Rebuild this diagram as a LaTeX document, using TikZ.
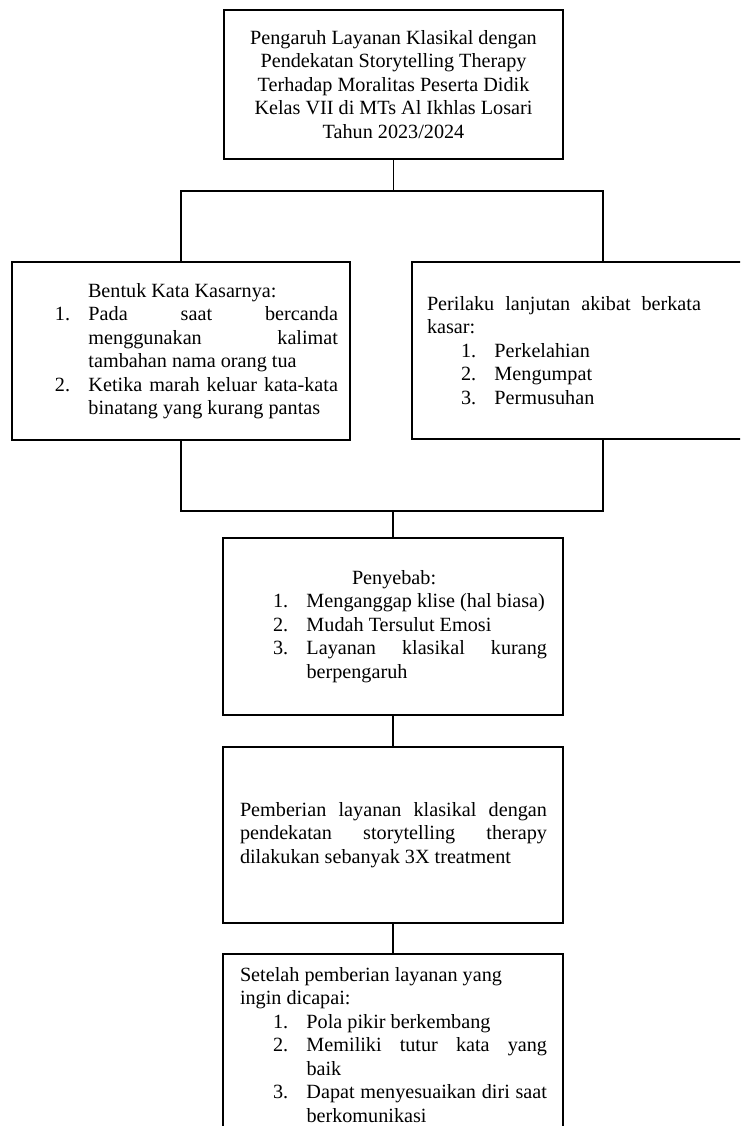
\documentclass[tikz,border=0pt]{standalone}
\usepackage{fontspec}
\setmainfont{Liberation Serif}
\newlength{\lblw}\setlength{\lblw}{33.5pt}
\newcommand{\itm}[2]{\par\noindent\hangindent=\lblw\hangafter=1\makebox[\lblw][l]{#1}#2}
\newcommand{\boxtxt}[4]{\hspace*{#1pt}\parbox{#2pt}{\tolerance=9999\hbadness=10000\hyphenpenalty=10000 #4}\hspace*{#3pt}}
\begin{document}
\begin{tikzpicture}[x=1pt,y=-1pt,
  blok/.style={draw,line width=1.8pt,inner sep=0pt,minimum height=#1,font=\fontsize{20.2}{23.5}\selectfont},
  lijn/.style={line width=1.8pt}]
 \useasboundingbox (0,0) rectangle (740,1126);
 \clip (0,0) rectangle (740,1126);
 \node[blok=149pt] (t) at (393.5,84.5) {\boxtxt{0}{339}{0}{\centering Pengaruh Layanan Klasikal dengan\\ Pendekatan Storytelling Therapy\\ Terhadap Moralitas Peserta Didik\\ Kelas VII di MTs Al Ikhlas Losari\\ Tahun 2023/2024}};
 \node[blok=178pt] (l) at (181,351) {\boxtxt{43}{283}{12}{\hspace*{33pt}Bentuk Kata Kasarnya:
   \itm{1.}{Pada saat bercanda\linebreak menggunakan kalimat\linebreak tambahan nama orang tua}
   \itm{2.}{Ketika marah keluar kata-kata\linebreak binatang yang kurang pantas}}};
 \node[blok=177pt] (r) at (603,350.5) {\boxtxt{15}{274}{93}{Perilaku lanjutan akibat berkata\linebreak kasar:\par
   \leftskip=34pt
   \itm{1.}{Perkelahian}
   \itm{2.}{Mengumpat}
   \itm{3.}{Permusuhan}}};
 \node[blok=177pt] (p) at (393,626.5) {\boxtxt{50}{274}{16}{\hspace*{79pt}Penyebab:
   \itm{1.}{Menganggap klise (hal biasa)}
   \itm{2.}{Mudah Tersulut Emosi}
   \itm{3.}{Layanan klasikal kurang\linebreak berpengaruh}}};
 \node[blok=176pt] (q) at (393,835) {\boxtxt{17}{307}{16}{Pemberian layanan klasikal dengan\linebreak pendekatan storytelling therapy\linebreak dilakukan sebanyak 3X treatment}};
 \node[blok=182pt] (f) at (393,1045) {\boxtxt{17}{307}{16}{Setelah pemberian layanan yang\\ ingin dicapai:\par
   \leftskip=33pt
   \itm{1.}{Pola pikir berkembang}
   \itm{2.}{Memiliki tutur kata yang\linebreak baik}
   \itm{3.}{Dapat menyesuaikan diri saat\linebreak berkomunikasi}}};
 % connectors
 \coordinate (split) at ([yshift=-31pt]t.south);
 \coordinate (join) at ([yshift=26pt]p.north);
 \draw[lijn] (t.south) -- (split);
 \draw[lijn] (l.north) |- (split) -| (r.north);
 \draw[lijn] (l.south) |- (join) -| (r.south);
 \draw[lijn] (join) -- (p.north);
 \draw[lijn] (p) -- (q);
 \draw[lijn] (q) -- (f);
\end{tikzpicture}
\end{document}
